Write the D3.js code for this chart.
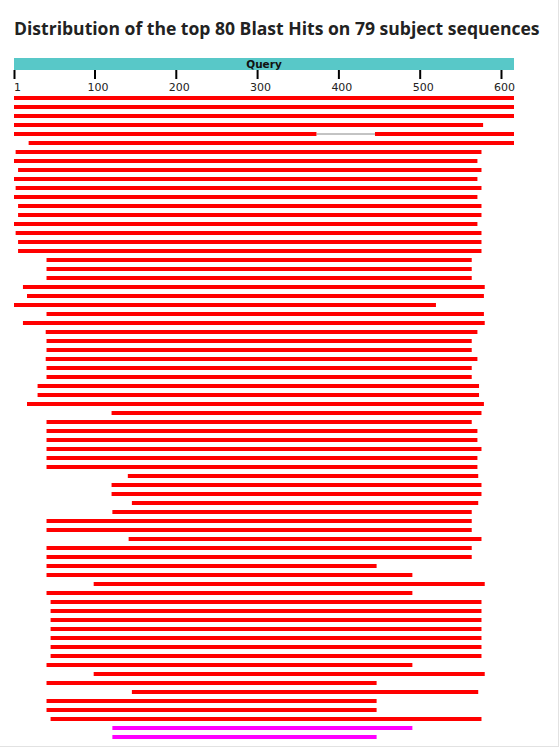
<!DOCTYPE html>
<html><head><meta charset="utf-8">
<script src="https://cdn.jsdelivr.net/npm/d3@7"></script>
<style>html,body{margin:0;padding:0;background:#fff;}svg{display:block;}</style>
</head><body>
<script>
const titleText = "Distribution of the top 80 Blast Hits on 79 subject sequences";
const queryLength = 616;
const tickValues = [1, 100, 200, 300, 400, 500, 600];
// one entry per hit: row, start, end, score group
const hitRows   = [0,1,2,3,4,4,5,6,7,8,9,10,11,12,13,14,15,16,17,18,19,20,21,22,23,24,25,26,27,28,29,30,31,32,33,34,35,36,37,38,39,40,41,42,43,44,45,46,47,48,49,50,51,52,53,54,55,56,57,58,59,60,61,62,63,64,65,66,67,68,69,70,71];
const hitStarts = [1,1,1,1,1,445,19,3,1,6,1,3,1,6,6,1,3,6,6,41,41,41,12,17,1,41,12,40,41,41,40,41,41,30,30,17,121,41,41,41,41,41,41,141,121,121,146,122,41,41,142,41,41,41,41,99,41,46,46,46,46,46,46,46,41,99,41,146,41,41,46,122,122];
const hitEnds   = [616,616,616,578,373,616,616,576,571,576,571,576,571,576,576,571,576,576,576,564,564,564,580,579,520,579,580,571,564,564,571,564,564,573,573,579,576,564,571,571,576,571,571,572,576,576,572,564,564,564,576,564,564,447,491,580,491,576,576,576,576,576,576,576,491,580,447,572,447,447,576,491,447];
const hitGroups = [">=200",">=200",">=200",">=200",">=200",">=200",">=200",">=200",">=200",">=200",">=200",">=200",">=200",">=200",">=200",">=200",">=200",">=200",">=200",">=200",">=200",">=200",">=200",">=200",">=200",">=200",">=200",">=200",">=200",">=200",">=200",">=200",">=200",">=200",">=200",">=200",">=200",">=200",">=200",">=200",">=200",">=200",">=200",">=200",">=200",">=200",">=200",">=200",">=200",">=200",">=200",">=200",">=200",">=200",">=200",">=200",">=200",">=200",">=200",">=200",">=200",">=200",">=200",">=200",">=200",">=200",">=200",">=200",">=200",">=200",">=200","80-200","80-200"];
const groupNames = [">=200", "80-200"];

const W = 559, H = 747;
const svg = d3.select("body").append("svg").attr("width", W).attr("height", H);

const x = d3.scaleLinear().domain([1, queryLength]).range([14, 514]);
const nRows = d3.max(hitRows) + 1;
const y = d3.scaleLinear().domain([0, 1]).range([96, 105]);
const color = d3.scaleOrdinal().domain(groupNames).range(["#ff0000", "#ff00ff"]);

// title
const title = svg.append("text")
  .attr("x", 14).attr("y", 35)
  .attr("font-family", "'Open Sans', sans-serif")
  .attr("font-weight", "bold").attr("font-size", 18)
  .attr("fill", "#222").text(titleText);
const tw = title.node().getComputedTextLength();
title.attr("font-size", 18 * 526 / tw);

// query bar
svg.append("rect").attr("x", x(1)).attr("y", 58)
  .attr("width", x(queryLength) - x(1)).attr("height", 12).attr("fill", "#58c8c8");
svg.append("text").attr("x", (x(1) + x(queryLength)) / 2).attr("y", 68)
  .attr("text-anchor", "middle").attr("font-family", "'DejaVu Sans', sans-serif")
  .attr("font-weight", "bold").attr("font-size", 10.5).attr("fill", "#111").text("Query");

// axis ticks
const axis = svg.append("g");
axis.selectAll("line").data(tickValues).join("line")
  .attr("x1", d => x(d) + 0.5).attr("x2", d => x(d) + 0.5)
  .attr("y1", 70).attr("y2", 79).attr("stroke", "#000").attr("stroke-width", 2);
axis.selectAll("text").data(tickValues).join("text")
  .attr("x", d => x(d) + 3.5).attr("y", 91)
  .attr("text-anchor", "middle").attr("font-family", "'DejaVu Sans', sans-serif")
  .attr("font-size", 11).attr("fill", "#222").text(d => d);

// hits
const hits = hitRows.map((r, i) => ({row: r, start: hitStarts[i], end: hitEnds[i], group: hitGroups[i]}));
const byRow = d3.group(hits, d => d.row);
// connecting lines for rows with several hits
byRow.forEach((arr, r) => {
  if (arr.length > 1) {
    const s = arr.slice().sort((a, b) => a.start - b.start);
    for (let k = 0; k < s.length - 1; k++) {
      svg.append("line")
        .attr("x1", x(s[k].end)).attr("x2", x(s[k + 1].start))
        .attr("y1", y(r) + 2).attr("y2", y(r) + 2)
        .attr("stroke", "#888").attr("stroke-width", 1);
    }
  }
});
svg.append("g").selectAll("rect").data(hits).join("rect")
  .attr("x", d => x(d.start)).attr("y", d => y(d.row))
  .attr("width", d => x(d.end) - x(d.start)).attr("height", 4)
  .attr("fill", d => color(d.group));

// page border
svg.append("line").attr("x1", W - 0.5).attr("x2", W - 0.5).attr("y1", 0).attr("y2", H).attr("stroke", "#e2e2e2");
svg.append("line").attr("x1", 0).attr("x2", W).attr("y1", H - 0.5).attr("y2", H - 0.5).attr("stroke", "#e2e2e2");
</script>
</body></html>
